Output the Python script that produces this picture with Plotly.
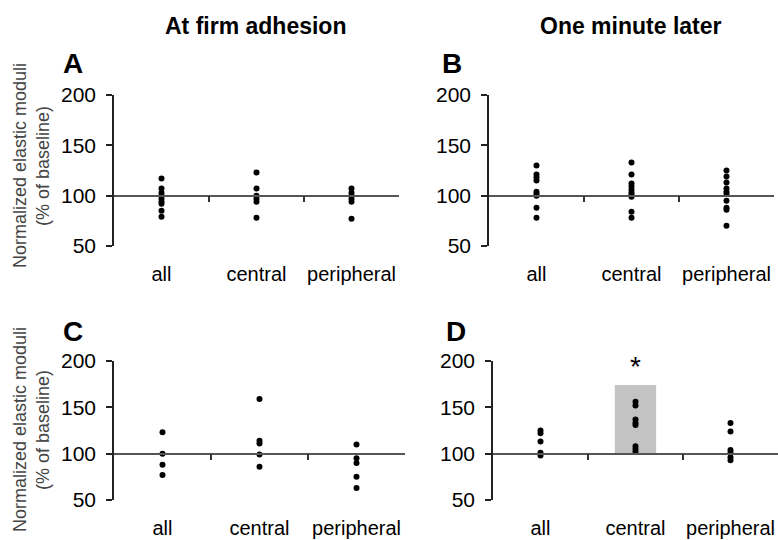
import plotly.graph_objects as go

categories = ["all", "central", "peripheral"]

# Panel A: at firm adhesion, first condition
a_all = [117, 107, 103, 100, 97, 94, 92, 85, 79]
a_central = [123, 107, 100, 97, 94, 78]
a_peripheral = [107, 103, 100, 97, 94, 77]

# Panel B: one minute later, first condition
b_all = [130, 121, 118, 115, 104, 102, 100, 88, 78]
b_central = [133, 121, 112, 109, 106, 103, 101, 99, 84, 78]
b_peripheral = [125, 119, 113, 107, 104, 102, 95, 88, 86, 70]

# Panel C: at firm adhesion, second condition
c_all = [123, 100, 88, 77]
c_central = [159, 114, 111, 99, 86]
c_peripheral = [110, 95, 90, 75, 63]

# Panel D: one minute later, second condition
d_all = [125, 122, 113, 101, 98]
d_central = [156, 152, 137, 133, 131, 108, 105, 102]
d_peripheral = [133, 124, 104, 101, 96, 93]

# highlighted bar in D (central), drawn from the 100 % baseline
d_bar_top = 174
baseline = 100

y_ticks = [50, 100, 150, 200]
y_range = [50, 200]

panel_letters = ["A", "B", "C", "D"]
column_titles = ["At firm adhesion", "One minute later"]
y_title_lines = ["Normalized elastic moduli", "(% of baseline)"]

FONT = "Liberation Sans, Arial, sans-serif"
W, H = 778, 540

panels = [
    (a_all, a_central, a_peripheral),
    (b_all, b_central, b_peripheral),
    (c_all, c_central, c_peripheral),
    (d_all, d_central, d_peripheral),
]

# layout geometry (pixels)
xdom_px = [(114, 399), (489, 774), (114, 405), (493, 778)]
ydom_px = [(95, 246), (95, 246), (361, 500), (361, 500)]

fig = go.Figure()
layout = dict(
    width=W, height=H,
    margin=dict(l=0, r=0, t=0, b=0, pad=0, autoexpand=False),
    paper_bgcolor="white", plot_bgcolor="white",
    showlegend=False,
    font=dict(family=FONT, color="black"),
)

annotations = []

for i, (vals_all, vals_c, vals_p) in enumerate(panels):
    n = i + 1
    xs = "" if n == 1 else str(n)
    x0, x1 = xdom_px[i]
    yt, yb = ydom_px[i]
    xdom = [x0 / W, x1 / W]
    ydom = [1 - yb / H, 1 - yt / H]
    line_ax = n + 4

    if i == 3:
        fig.add_trace(go.Bar(
            x=["central"], y=[d_bar_top - baseline], base=[baseline],
            width=0.435, marker=dict(color="#c3c3c3", line=dict(width=0)),
            xaxis="x" + xs, yaxis="y" + xs, hoverinfo="skip",
        ))

    for cat, vals in zip(categories, (vals_all, vals_c, vals_p)):
        fig.add_trace(go.Scatter(
            x=[cat] * len(vals), y=vals, mode="markers",
            marker=dict(color="black", size=6),
            xaxis="x" + xs, yaxis="y" + xs, cliponaxis=False,
        ))

    # invisible trace to register the baseline axis
    fig.add_trace(go.Scatter(
        x=[0], y=[baseline], mode="markers", marker=dict(opacity=0),
        xaxis="x" + str(line_ax), yaxis="y" + xs, hoverinfo="skip",
    ))

    layout["xaxis" + xs] = dict(
        domain=xdom, anchor="y" + xs, type="category",
        categoryorder="array", categoryarray=categories,
        range=[-0.5, 2.5], showline=False, showgrid=False, zeroline=False,
        ticks="", ticklabelstandoff=14, automargin=False,
        tickfont=dict(size=20, family=FONT, color="black"),
    )
    pos = ydom[0] + (baseline - y_range[0]) / (y_range[1] - y_range[0]) * (ydom[1] - ydom[0])
    layout["xaxis" + str(line_ax)] = dict(
        domain=xdom, anchor="free", position=pos, overlaying="x" + xs,
        type="linear", range=[-0.5, 2.5], tickvals=[0.5, 1.5],
        ticks="outside", ticklen=6, tickwidth=1.5, tickcolor="#333",
        showticklabels=False, showline=True, linecolor="#555", linewidth=1.5,
        showgrid=False, zeroline=False, automargin=False,
    )
    layout["yaxis" + xs] = dict(
        domain=ydom, anchor="x" + xs, range=y_range, tickvals=y_ticks,
        ticks="outside", ticklen=6, tickwidth=1.5, tickcolor="#222",
        showline=True, linecolor="#222", linewidth=1.5,
        showgrid=False, zeroline=False, ticklabelstandoff=6, automargin=False,
        tickfont=dict(size=21, family=FONT, color="black"),
    )

    # panel letter
    lx = [73, 452, 73, 456][i]
    ly = [63, 63, 331, 331][i]
    annotations.append(dict(
        text="<b>%s</b>" % panel_letters[i], x=lx / W, y=1 - ly / H,
        xref="paper", yref="paper", showarrow=False,
        xanchor="center", yanchor="middle",
        font=dict(size=28, family=FONT, color="black"),
    ))

# column titles
for t, cx in zip(column_titles, (255, 631)):
    annotations.append(dict(
        text="<b>%s</b>" % t, x=cx / W, y=1 - 26 / H, xref="paper", yref="paper",
        showarrow=False, xanchor="center", yanchor="middle",
        font=dict(size=23, family=FONT, color="black"),
    ))

# y-axis titles (left column only)
for cy in (166, 430):
    for line, cx in zip(y_title_lines, (20, 43)):
        annotations.append(dict(
            text=line, x=cx / W, y=1 - cy / H, xref="paper", yref="paper",
            showarrow=False, textangle=-90, xanchor="center", yanchor="middle",
            font=dict(size=18, family=FONT, color="#444"),
        ))

# significance marker
annotations.append(dict(
    text="*", x="central", y=194, xref="x4", yref="y4", showarrow=False,
    xanchor="center", yanchor="middle",
    font=dict(size=28, family=FONT, color="black"),
))

layout["annotations"] = annotations
fig.update_layout(**layout)
fig.write_html("out.html")
